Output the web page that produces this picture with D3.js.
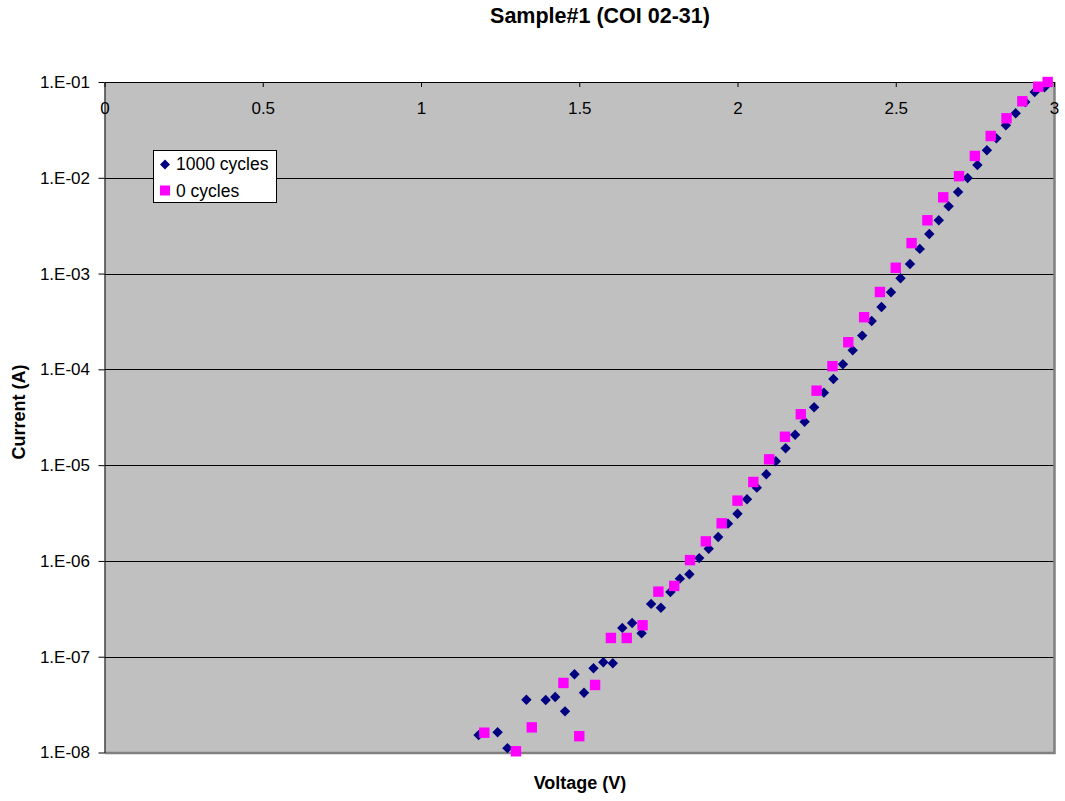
<!DOCTYPE html>
<html>
<head>
<meta charset="utf-8">
<script src="https://cdn.jsdelivr.net/npm/d3@7"></script>
<style>
  html, body { margin: 0; padding: 0; background: #fff; }
  svg { display: block; font-family: "Liberation Sans", Arial, sans-serif; }
</style>
</head>
<body>
<svg id="chart" width="1065" height="801"></svg>
<script>
// I-V sweep after 1000 cycles (voltage in V, current in A)
const cycled1000Voltage = [1.182, 1.242, 1.273, 1.333, 1.394, 1.424, 1.455, 1.485, 1.515, 1.545,
  1.576, 1.606, 1.636, 1.667, 1.697, 1.727, 1.758, 1.788, 1.818, 1.848,
  1.879, 1.909, 1.939, 1.970, 2.000, 2.030, 2.061, 2.091, 2.121, 2.152,
  2.182, 2.212, 2.242, 2.273, 2.303, 2.333, 2.364, 2.394, 2.424, 2.455,
  2.485, 2.515, 2.545, 2.576, 2.606, 2.636, 2.667, 2.697, 2.727, 2.758,
  2.788, 2.818, 2.848, 2.879, 2.909, 2.939, 2.970];
const cycled1000Current = [1.52e-8, 1.63e-8, 1.11e-8, 3.56e-8, 3.53e-8, 3.80e-8, 2.69e-8, 6.56e-8, 4.21e-8, 7.57e-8,
  8.75e-8, 8.54e-8, 2.00e-7, 2.25e-7, 1.76e-7, 3.56e-7, 3.25e-7, 4.74e-7, 6.53e-7, 7.26e-7,
  1.07e-6, 1.34e-6, 1.78e-6, 2.45e-6, 3.11e-6, 4.40e-6, 5.82e-6, 8.02e-6, 1.10e-5, 1.50e-5,
  2.08e-5, 2.84e-5, 4.02e-5, 5.71e-5, 7.94e-5, 1.13e-4, 1.58e-4, 2.25e-4, 3.20e-4, 4.48e-4,
  6.38e-4, 8.93e-4, 1.26e-3, 1.81e-3, 2.59e-3, 3.60e-3, 5.04e-3, 7.11e-3, 9.95e-3, 1.36e-2,
  1.94e-2, 2.58e-2, 3.53e-2, 4.71e-2, 6.18e-2, 7.87e-2, 8.8e-2];

// I-V sweep before cycling
const cycled0Voltage = [1.20, 1.30, 1.35, 1.45, 1.50, 1.55, 1.60, 1.65, 1.70, 1.75,
  1.80, 1.85, 1.90, 1.95, 2.00, 2.05, 2.10, 2.15, 2.20, 2.25,
  2.30, 2.35, 2.40, 2.45, 2.50, 2.55, 2.60, 2.65, 2.70, 2.75,
  2.80, 2.85, 2.90, 2.95, 2.98];
const cycled0Current = [1.61e-8, 1.03e-8, 1.83e-8, 5.32e-8, 1.48e-8, 5.07e-8, 1.57e-7, 1.57e-7, 2.13e-7, 4.78e-7,
  5.48e-7, 1.02e-6, 1.60e-6, 2.47e-6, 4.26e-6, 6.67e-6, 1.15e-5, 1.98e-5, 3.40e-5, 5.99e-5,
  1.08e-4, 1.92e-4, 3.50e-4, 6.42e-4, 1.15e-3, 2.08e-3, 3.60e-3, 6.25e-3, 1.04e-2, 1.69e-2,
  2.73e-2, 4.18e-2, 6.29e-2, 8.93e-2, 1.0e-1];

const xTickValues = [0, 0.5, 1, 1.5, 2, 2.5, 3];
const xTickLabels = ["0", "0.5", "1", "1.5", "2", "2.5", "3"];
const yTickValues = [1e-1, 1e-2, 1e-3, 1e-4, 1e-5, 1e-6, 1e-7, 1e-8];
const yTickLabels = ["1.E-01", "1.E-02", "1.E-03", "1.E-04", "1.E-05", "1.E-06", "1.E-07", "1.E-08"];
const seriesNames = ["1000 cycles", "0 cycles"];

const svg = d3.select("#chart");
const plot = { left: 104.5, top: 82, right: 1054, bottom: 752.5 };

const x = d3.scaleLinear().domain([0, 3]).range([plot.left, plot.right]);
const y = d3.scaleLog().domain([1e-8, 1e-1]).range([plot.bottom, plot.top]);

// plot area
svg.append("rect")
  .attr("x", plot.left).attr("y", plot.top)
  .attr("width", plot.right - plot.left).attr("height", plot.bottom - plot.top)
  .attr("fill", "#c0c0c0");

// horizontal gridlines
svg.append("g").selectAll("line")
  .data(yTickValues.filter(v => v < 1e-1 && v > 1e-8))
  .join("line")
  .attr("x1", plot.left).attr("x2", plot.right)
  .attr("y1", d => Math.round(y(d)) + 0.5).attr("y2", d => Math.round(y(d)) + 0.5)
  .attr("stroke", "#000").attr("stroke-width", 1);

// grey frame on bottom and right
svg.append("path")
  .attr("d", `M${plot.left},${plot.bottom + 0.5} H${plot.right + 0.5} V${plot.top}`)
  .attr("fill", "none").attr("stroke", "#808080").attr("stroke-width", 2.5);

// x axis along the top edge, ticks pointing into the plot
const xAxis = d3.axisBottom(x)
  .tickValues(xTickValues)
  .tickFormat((d, i) => xTickLabels[i])
  .tickSizeInner(5).tickSizeOuter(0).tickPadding(15);
const gx = svg.append("g").attr("transform", `translate(0,${plot.top})`).call(xAxis);
gx.selectAll("text").attr("font-size", 17).attr("fill", "#000").attr("font-family", "Liberation Sans, Arial, sans-serif");
gx.selectAll("line, path").attr("stroke", "#000");

// y axis on the left
const yAxis = d3.axisLeft(y)
  .tickValues(yTickValues)
  .tickFormat((d, i) => yTickLabels[i])
  .tickSizeInner(6).tickSizeOuter(0).tickPadding(8.5);
const gy = svg.append("g").attr("transform", `translate(${plot.left},0)`).call(yAxis);
gy.selectAll("text").attr("font-size", 17).attr("fill", "#000").attr("font-family", "Liberation Sans, Arial, sans-serif");
gy.selectAll("line, path").attr("stroke", "#000");

// markers
const diamond = d3.symbol().type(d3.symbolDiamond2 || d3.symbolDiamond);
const diamondPath = (cx, cy, r) => `M${cx},${cy - r} L${cx + r},${cy} L${cx},${cy + r} L${cx - r},${cy} Z`;

const pts1000 = cycled1000Voltage.map((v, i) => ({ v, c: cycled1000Current[i] }));
const pts0 = cycled0Voltage.map((v, i) => ({ v, c: cycled0Current[i] }));

svg.append("g").selectAll("path")
  .data(pts1000)
  .join("path")
  .attr("d", d => diamondPath(x(d.v), y(d.c), 5.2))
  .attr("fill", "#000080");

svg.append("g").selectAll("rect")
  .data(pts0)
  .join("rect")
  .attr("x", d => x(d.v) - 5.2).attr("y", d => y(d.c) - 5.2)
  .attr("width", 10.4).attr("height", 10.4)
  .attr("fill", "#ff00ff");

// legend
const lg = svg.append("g");
lg.append("rect")
  .attr("x", 153.5).attr("y", 150.5).attr("width", 123).attr("height", 52)
  .attr("fill", "#fff").attr("stroke", "#000").attr("stroke-width", 1);
lg.append("path").attr("d", diamondPath(165, 164.5, 5)).attr("fill", "#000080");
lg.append("rect").attr("x", 160).attr("y", 185.5).attr("width", 10).attr("height", 10).attr("fill", "#ff00ff");
lg.append("text").attr("x", 176).attr("y", 170).attr("font-size", 17.5).text(seriesNames[0]);
lg.append("text").attr("x", 176).attr("y", 196.5).attr("font-size", 17.5).text(seriesNames[1]);

// titles
svg.append("text")
  .attr("x", 600).attr("y", 23).attr("text-anchor", "middle")
  .attr("font-size", 21.5).attr("font-weight", "bold")
  .text("Sample#1 (COI 02-31)");
svg.append("text")
  .attr("x", 580).attr("y", 789).attr("text-anchor", "middle")
  .attr("font-size", 18).attr("font-weight", "bold")
  .text("Voltage (V)");
svg.append("text")
  .attr("transform", "translate(25,412) rotate(-90)")
  .attr("text-anchor", "middle")
  .attr("font-size", 18).attr("font-weight", "bold")
  .text("Current (A)");
</script>
</body>
</html>
